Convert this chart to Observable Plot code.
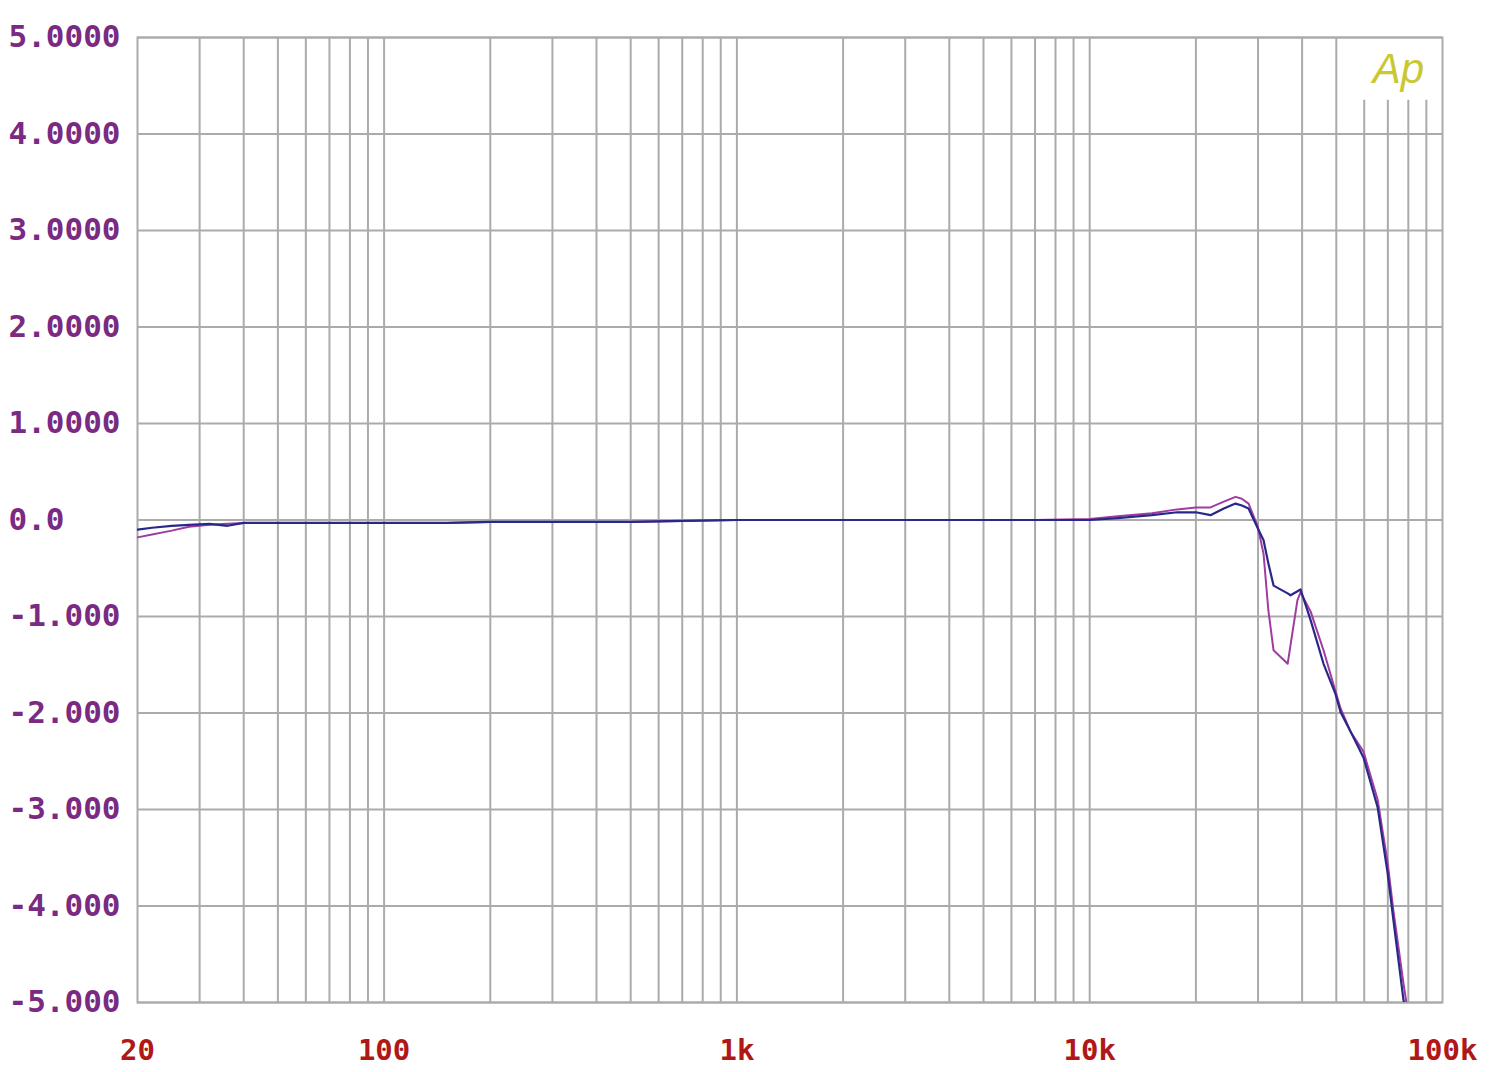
<!DOCTYPE html>
<html>
<head>
<meta charset="utf-8">
<script src="https://cdn.jsdelivr.net/npm/d3@7"></script>
<script src="https://cdn.jsdelivr.net/npm/@observablehq/plot@0.6"></script>
<style>
  html, body { margin: 0; padding: 0; background: #ffffff; }
  #chart { width: 1500px; height: 1072px; }
</style>
</head>
<body>
<div id="chart"></div>
<script>
// ---- data ----
const freqA = [20, 22, 25, 28, 32, 36, 40, 50, 60, 80, 100, 150, 200, 300, 500, 700, 1000, 2000, 3000, 5000, 7000, 10000, 12000, 15000, 17700, 20000, 22000, 24000, 25900, 27000, 28200, 29900, 31100, 32100, 33200, 36400, 38800, 39600, 42300, 43100, 46000, 49700, 51400, 55000, 59700, 65500, 69900, 72600, 77500, 79000];
const levelA = [-0.18, -0.15, -0.11, -0.07, -0.05, -0.04, -0.03, -0.03, -0.03, -0.03, -0.03, -0.03, -0.02, -0.02, -0.02, -0.01, 0.0, 0.0, 0.0, 0.0, 0.0, 0.01, 0.04, 0.07, 0.11, 0.13, 0.13, 0.19, 0.24, 0.22, 0.17, -0.06, -0.35, -0.94, -1.35, -1.49, -0.83, -0.75, -0.95, -1.04, -1.35, -1.77, -1.95, -2.2, -2.4, -2.9, -3.55, -4.05, -4.8, -5.0];

const freqB = [20, 22, 25, 28, 32, 36, 40, 50, 60, 80, 100, 150, 200, 300, 500, 700, 1000, 2000, 3000, 5000, 7000, 10000, 12000, 15000, 17700, 20000, 22000, 24000, 25900, 27000, 28200, 29900, 31100, 32100, 33200, 36400, 37100, 39600, 42300, 46000, 49700, 51400, 55000, 59700, 65500, 69900, 72600, 77500, 78200];
const levelB = [-0.10, -0.08, -0.06, -0.05, -0.04, -0.06, -0.03, -0.03, -0.03, -0.03, -0.03, -0.03, -0.02, -0.02, -0.02, -0.01, 0.0, 0.0, 0.0, 0.0, 0.0, 0.0, 0.02, 0.05, 0.08, 0.08, 0.05, 0.12, 0.17, 0.15, 0.12, -0.08, -0.21, -0.45, -0.68, -0.76, -0.78, -0.72, -1.04, -1.49, -1.8, -1.99, -2.2, -2.46, -2.98, -3.66, -4.15, -4.97, -5.05];

const yTicks = [5, 4, 3, 2, 1, 0, -1, -2, -3, -4, -5];
const yTickLabels = ["5.0000", "4.0000", "3.0000", "2.0000", "1.0000", "0.0", "-1.000", "-2.000", "-3.000", "-4.000", "-5.000"];
const xTicks = [20, 100, 1000, 10000, 100000];
const xTickLabels = ["20", "100", "1k", "10k", "100k"];
const logoFreqs = [60000, 70000, 80000, 90000]; // grid lines cut short by the logo box
const logoCutLevel = 4.35;

// ---- grid frequencies (1..9 per decade) ----
const gridFreqs = [];
for (let dec = 10; dec <= 100000; dec *= 10) {
  for (let m = 1; m <= 9; m++) {
    const f = m * dec;
    if (f > 20 && f < 100000) gridFreqs.push(f);
  }
}
const fullGrid = gridFreqs.filter(f => !logoFreqs.includes(f));

const seriesA = freqA.map((f, i) => ({f, v: levelA[i]}));
const seriesB = freqB.map((f, i) => ({f, v: levelB[i]}));

const gridColor = "#ababab";
const monoFont = "'DejaVu Sans Mono', 'Liberation Mono', monospace";

const chart = Plot.plot({
  width: 1500,
  height: 1072,
  marginLeft: 137,
  marginRight: 58,
  marginTop: 37,
  marginBottom: 70,
  style: {background: "#ffffff"},
  x: {type: "log", domain: [20, 100000], axis: null},
  y: {domain: [-5, 5], axis: null},
  marks: [
    Plot.ruleX(fullGrid, {x: d => d, y1: -5, y2: 5, stroke: gridColor, strokeWidth: 2}),
    Plot.ruleX(logoFreqs, {x: d => d, y1: -5, y2: logoCutLevel, stroke: gridColor, strokeWidth: 2}),
    Plot.ruleY(yTicks, {y: d => d, stroke: gridColor, strokeWidth: 2}),
    Plot.frame({stroke: gridColor, strokeWidth: 2}),
    Plot.line(seriesA, {x: "f", y: "v", stroke: "#a03ca0", strokeWidth: 2, clip: true}),
    Plot.line(seriesB, {x: "f", y: "v", stroke: "#28288a", strokeWidth: 2.2, clip: true}),
    Plot.text(yTicks, {
      y: d => d, text: (d, i) => yTickLabels[i], frameAnchor: "left",
      textAnchor: "start", lineAnchor: "middle", dx: -129, fill: "#7a2a82",
      fontSize: 31, fontWeight: "bold", fontFamily: monoFont
    }),
    Plot.text(xTicks, {
      x: d => d, text: (d, i) => xTickLabels[i], frameAnchor: "bottom",
      textAnchor: "middle", lineAnchor: "middle", dy: 48, fill: "#b01818",
      fontSize: 29, fontWeight: "bold", fontFamily: monoFont
    }),
    Plot.text(["Ap"], {
      text: d => d, frameAnchor: "top-right", textAnchor: "middle", lineAnchor: "middle",
      dx: -44, dy: 32, fill: "#c8c832", fontSize: 42, fontStyle: "italic",
      fontFamily: "'Liberation Sans', 'DejaVu Sans', sans-serif"
    })
  ]
});
document.getElementById("chart").appendChild(chart);
</script>
</body>
</html>
